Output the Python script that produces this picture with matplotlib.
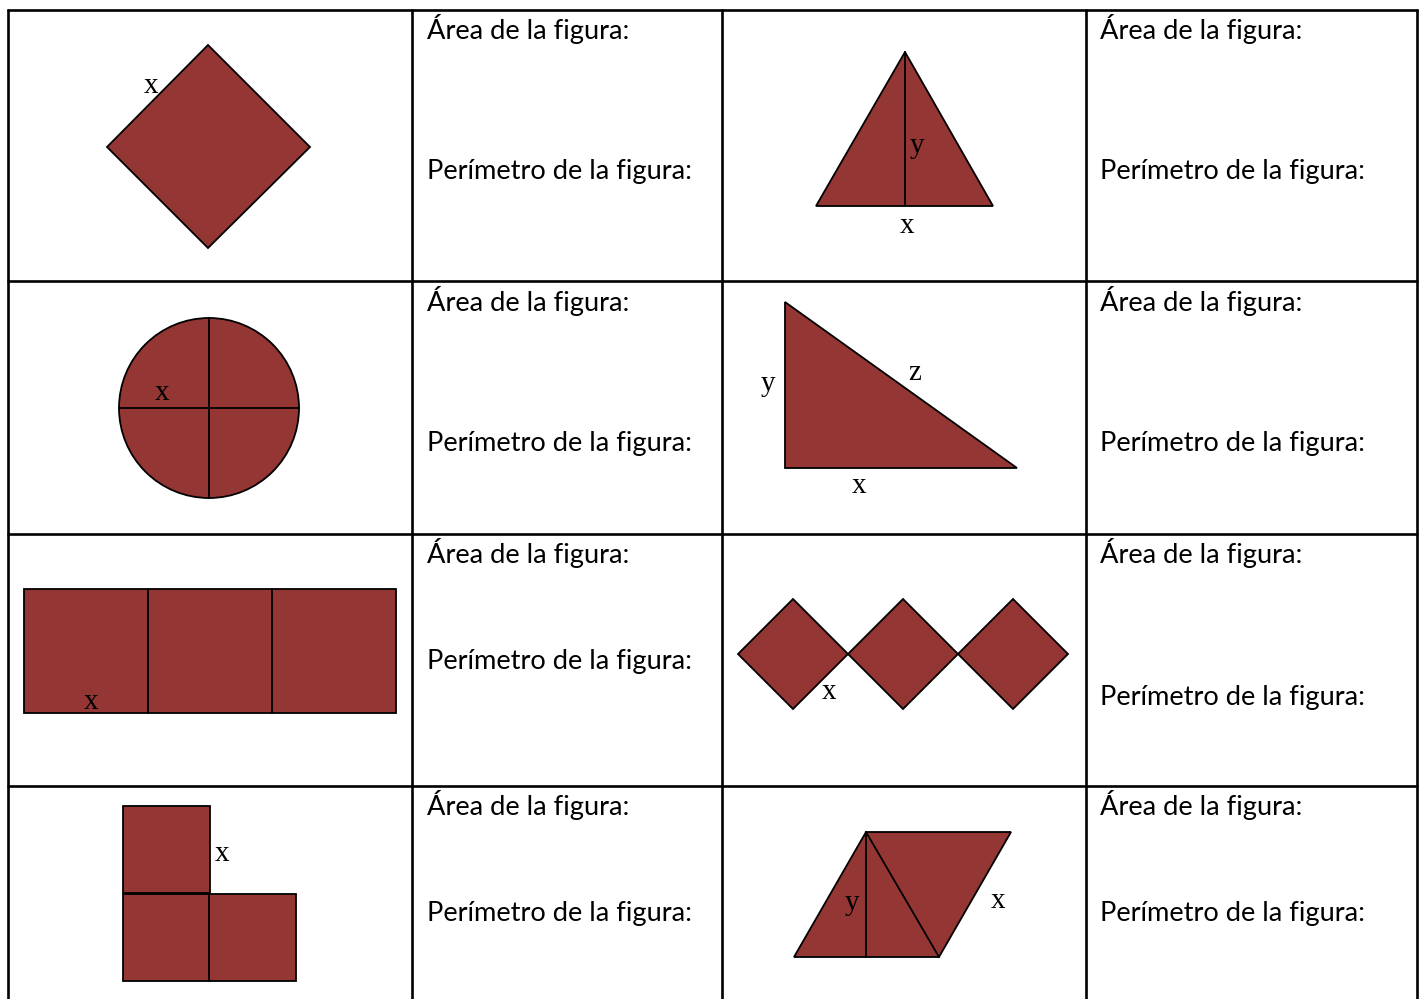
import matplotlib
matplotlib.use("Agg")
import matplotlib.pyplot as plt
from matplotlib.patches import Polygon, Circle

# table layout (pixels)
col_edges = [8, 412, 722, 1086, 1417]
row_edges = [10, 281, 534, 786]
area_label = "Área de la figura:"
perim_label = "Perímetro de la figura:"

# text rows: (area y, perimeter y) for left / right text columns
area_y = [29, 301, 553, 805]
perim_y_left = [172, 444, 661, 913]
perim_y_right = [172, 444, 697, 913]
text_x = [427, 1100]

fill = "#943634"

# shapes
diamond = [(208, 45), (310, 147), (208, 248), (107, 147)]
iso_tri = [(905, 52), (993, 206), (816, 206)]
iso_height = [(905, 52), (905, 206)]
circle_c = (209, 408)
circle_r = 90
right_tri = [(785, 302), (1017, 468), (785, 468)]
rect_x = [24, 148, 272, 396]
rect_y = [589, 713]
diamond_cx = [793, 903, 1013]
diamond_cy = 654
diamond_h = 55
l_squares = [(123, 806), (123, 894), (209, 894)]
l_side = 87
para = [(866, 832), (1011, 832), (939, 957), (794, 957)]
para_lines = [[(866, 832), (866, 957)], [(866, 832), (939, 957)]]

# variable labels
var_labels = [
    ("x", 151, 86), ("y", 917, 146), ("x", 907, 226),
    ("x", 162, 393), ("y", 768, 384), ("z", 915, 373), ("x", 859, 486),
    ("x", 91, 702), ("x", 829, 692),
    ("x", 222, 854), ("y", 852, 903), ("x", 998, 901),
]

fig = plt.figure(figsize=(14.24, 9.99), dpi=100)
ax = fig.add_axes([0, 0, 1, 1])
ax.set_xlim(0, 1424)
ax.set_ylim(999, 0)
ax.axis("off")

# grid
for x in col_edges:
    ax.plot([x, x], [row_edges[0] - 1, 999], color="black", lw=1.9, solid_capstyle="butt")
for y in row_edges:
    ax.plot([col_edges[0] - 1, col_edges[-1] + 1], [y, y], color="black", lw=1.9, solid_capstyle="butt")

# labels in text cells
for i in range(4):
    for j, tx in enumerate(text_x):
        py = perim_y_left[i] if j == 0 else perim_y_right[i]
        ax.text(tx, area_y[i], area_label, fontsize=19.6, family="Lato", va="center", ha="left")
        ax.text(tx, py, perim_label, fontsize=19.6, family="Lato", va="center", ha="left")

edge = dict(facecolor=fill, edgecolor="black", lw=1.3, joinstyle="miter")

ax.add_patch(Polygon(diamond, closed=True, **edge))
ax.add_patch(Polygon(iso_tri, closed=True, **edge))
ax.plot(*zip(*iso_height), color="black", lw=1.3)

ax.add_patch(Circle(circle_c, circle_r, **edge))
cx, cy = circle_c
ax.plot([cx - circle_r, cx + circle_r], [cy, cy], color="black", lw=1.3)
ax.plot([cx, cx], [cy - circle_r, cy + circle_r], color="black", lw=1.3)

ax.add_patch(Polygon(right_tri, closed=True, **edge))

for x0, x1 in zip(rect_x[:-1], rect_x[1:]):
    ax.add_patch(Polygon([(x0, rect_y[0]), (x1, rect_y[0]), (x1, rect_y[1]), (x0, rect_y[1])],
                         closed=True, **edge))

for dx in diamond_cx:
    ax.add_patch(Polygon([(dx, diamond_cy - diamond_h), (dx + diamond_h, diamond_cy),
                          (dx, diamond_cy + diamond_h), (dx - diamond_h, diamond_cy)],
                         closed=True, **edge))

for sx, sy in l_squares:
    ax.add_patch(Polygon([(sx, sy), (sx + l_side, sy), (sx + l_side, sy + l_side), (sx, sy + l_side)],
                         closed=True, **edge))

ax.add_patch(Polygon(para, closed=True, **edge))
for seg in para_lines:
    ax.plot(*zip(*seg), color="black", lw=1.3)

for s, x, y in var_labels:
    ax.text(x, y, s, fontsize=21, family="Liberation Serif", ha="center", va="center")

fig.savefig("out.png", dpi=100)
